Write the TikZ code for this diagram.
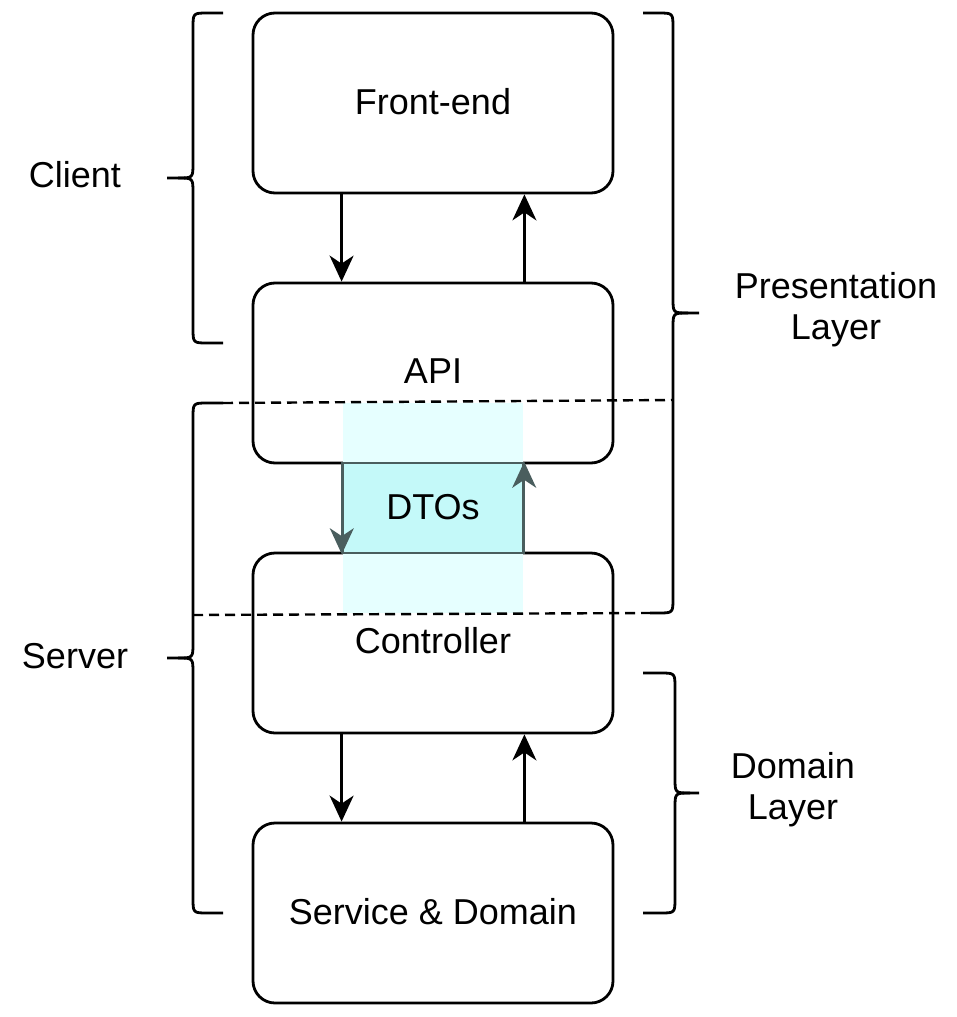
\documentclass[tikz,border=0pt]{standalone}
\usepackage{fontspec}
\setmainfont{Liberation Sans}
\usetikzlibrary{arrows.meta}
\definecolor{dtofill}{HTML}{C4F9F9}
\definecolor{dtolight}{HTML}{E6FFFF}
\definecolor{dtoline}{HTML}{4A5E5E}
\tikzset{
  box/.style={draw, line width=2.8pt, rounded corners=22pt, fill=white,
    minimum width=360pt, minimum height=180pt, inner sep=0pt,
    font=\fontsize{36}{43}\selectfont},
  conn/.style={line width=2.4pt, -{Stealth[length=26pt,width=24pt,inset=8pt]}},
  bracepath/.style={line width=2.8pt},
  dashline/.style={line width=2.4pt, dash pattern=on 10pt off 6pt},
  lbl/.style={font=\fontsize{36}{41}\selectfont, align=center, inner sep=0pt}
}
\newcommand{\up}[2]{\raisebox{#1pt}{#2}}
\begin{document}
\begin{tikzpicture}[x=1pt,y=-1pt]
\useasboundingbox[fill=white] (0,0) rectangle (957,1017);

% boxes
\node[box] (fe)  at (433,103) {\up{3}{Front-end}};
\node[box] (api) at (433,373) {\up{3}{API}};
\node[box] (ctl) at (433,643) {\up{5}{Controller}};
\node[box] (svc) at (433,913) {\up{3}{Service \& Domain}};

% DTO region
\fill[dtolight] (343,403) rectangle (523,613);
\node[draw=dtoline, fill=dtofill, line width=2.4pt, minimum width=180pt, minimum height=90pt,
      inner sep=0pt, lbl] (dto) at (433,508) {\up{3}{DTOs}};

% connectors
\draw[conn] ([xshift=90pt]fe.south west) -- ([xshift=90pt]api.north west);
\draw[conn] ([xshift=-90pt]api.north east) -- ([xshift=-90pt]fe.south east);
\draw[conn, dtoline] (dto.north west) -- (dto.south west);
\draw[conn, dtoline] (dto.south east) -- (dto.north east);
\draw[conn] ([xshift=90pt]ctl.south west) -- ([xshift=90pt]svc.north west);
\draw[conn] ([xshift=-90pt]svc.north east) -- ([xshift=-90pt]ctl.south east);

% dashed lines
\draw[dashline] (223,403) -- (673,400);
\draw[dashline] (193,615) -- (650,613);

% left braces
\draw[bracepath] (223,13) -- (208,13) .. controls (193,13) .. (193,28) -- (193,163)
  .. controls (193,178) .. (178,178) -- (167,178);
\draw[bracepath] (178,178) .. controls (193,178) .. (193,193) -- (193,328)
  .. controls (193,343) .. (208,343) -- (223,343);
\draw[bracepath] (223,403) -- (208,403) .. controls (193,403) .. (193,418) -- (193,643)
  .. controls (193,658) .. (178,658) -- (167,658);
\draw[bracepath] (178,658) .. controls (193,658) .. (193,673) -- (193,898)
  .. controls (193,913) .. (208,913) -- (223,913);

% right braces
\draw[bracepath] (643,13) -- (658,13) .. controls (673,13) .. (673,28) -- (673,298)
  .. controls (673,313) .. (688,313) -- (699,313);
\draw[bracepath] (688,313) .. controls (673,313) .. (673,328) -- (673,598)
  .. controls (673,613) .. (658,613) -- (650,613);
\draw[bracepath] (643,673) -- (660,673) .. controls (675,673) .. (675,688) -- (675,778)
  .. controls (675,793) .. (690,793) -- (699,793);
\draw[bracepath] (690,793) .. controls (675,793) .. (675,808) -- (675,898)
  .. controls (675,913) .. (660,913) -- (643,913);

% labels
\node[lbl] (client) at (75,175) {Client};
\node[lbl] (server) at (75,656) {Server};
\node[lbl] (pres) at (836,310) {Presentation\\Layer};
\node[lbl] (dom) at (793,790) {Domain\\Layer};
\end{tikzpicture}
\end{document}
